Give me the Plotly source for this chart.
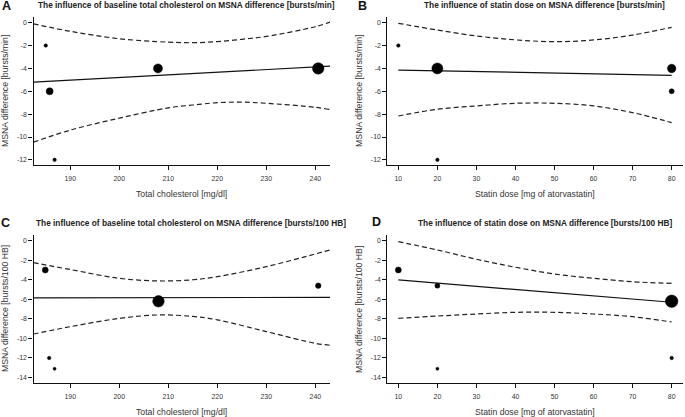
import plotly.graph_objects as go

W, H = 685, 417

# ---------------- data ----------------
# Panel A: baseline total cholesterol vs MSNA difference [bursts/min]
a_x = [185.0, 185.8, 186.8, 207.9, 240.6]
a_y = [-2.0, -6.0, -12.0, -4.0, -4.0]
a_fit_x = [182.5, 243.0]
a_fit_y = [-5.2, -3.8]
a_band_x = [182.5, 190, 200, 210, 215, 220, 225, 230, 240, 243]
a_upper = [-0.1, -0.75, -1.4, -1.7, -1.75, -1.65, -1.45, -1.2, -0.35, 0.05]
a_lower = [-10.45, -9.4, -8.35, -7.45, -7.2, -7.0, -6.95, -7.05, -7.4, -7.6]

# Panel B: statin dose vs MSNA difference [bursts/min]
b_x = [10, 20, 20, 80, 80]
b_y = [-2.0, -4.0, -12.0, -4.0, -6.0]
b_fit_x = [10, 80]
b_fit_y = [-4.14, -4.6]
b_band_x = [10, 20, 30, 40, 50, 60, 70, 80]
b_upper = [-0.05, -0.64, -1.16, -1.5, -1.66, -1.51, -1.08, -0.4]
b_lower = [-8.16, -7.57, -7.28, -7.05, -7.05, -7.28, -7.87, -8.74]

# Panel C: baseline total cholesterol vs MSNA difference [bursts/100 HB]
c_x = [184.9, 185.7, 186.8, 208.0, 240.6]
c_y = [-3.0, -12.0, -13.1, -6.2, -4.6]
c_fit_x = [182.5, 243.0]
c_fit_y = [-5.85, -5.8]
c_band_x = [182.5, 190, 200, 208, 215, 220, 230, 240, 243]
c_upper = [-2.25, -2.95, -3.85, -4.12, -4.0, -3.68, -2.66, -1.36, -0.95]
c_lower = [-9.55, -8.8, -7.95, -7.6, -7.75, -8.1, -9.3, -10.5, -10.7]

# Panel D: statin dose vs MSNA difference [bursts/100 HB]
d_x = [10, 20, 20, 80, 80]
d_y = [-3.0, -4.6, -13.1, -6.2, -12.0]
d_fit_x = [10, 80]
d_fit_y = [-4.02, -6.3]
d_band_x = [10, 20, 30, 40, 50, 60, 70, 80]
d_upper = [-0.1, -0.95, -1.9, -2.72, -3.41, -3.85, -4.2, -4.36]
d_lower = [-7.94, -7.71, -7.5, -7.33, -7.33, -7.5, -7.78, -8.32]

# marker diameters (px), proportional to study weight
a_sizes = [3.5, 7, 3.5, 9, 11.5]
b_sizes = [3.5, 11, 3.5, 8.5, 5]
c_sizes = [6, 3.5, 3, 11.5, 5.5]
d_sizes = [6, 5, 3, 12.5, 3.5]

chol_ticks = [190, 200, 210, 220, 230, 240]
dose_ticks = [10, 20, 30, 40, 50, 60, 70, 80]
y_ticks_min = [0, -2, -4, -6, -8, -10, -12]
y_ticks_hb = [0, -2, -4, -6, -8, -10, -12, -14]

titles = [
    "The influence of baseline total cholesterol on MSNA difference [bursts/min]",
    "The influence of statin dose on MSNA difference [bursts/min]",
    "The influence of baseline total cholesterol on MSNA difference [bursts/100 HB]",
    "The influence of statin dose on MSNA difference [bursts/100 HB]",
]
letters = ["A", "B", "C", "D"]
x_titles = ["Total cholesterol [mg/dl]", "Statin dose [mg of atorvastatin]",
            "Total cholesterol [mg/dl]", "Statin dose [mg of atorvastatin]"]
y_titles = ["MSNA difference [bursts/min]", "MSNA difference [bursts/min]",
            "MSNA difference [bursts/100 HB]", "MSNA difference [bursts/100 HB]"]

# ---------------- layout geometry (pixels) ----------------
panels = [
    dict(px=(33.5, 330.0), py=(17.0, 165.0), xr=[182.5, 243.0], yr=[-12.45, 0.5]),
    dict(px=(387.4, 682.6), py=(17.0, 165.0), xr=[7.2, 82.8], yr=[-12.45, 0.5]),
    dict(px=(33.5, 330.0), py=(235.2, 383.0), xr=[182.5, 243.0], yr=[-14.56, 0.56]),
    dict(px=(387.4, 682.6), py=(235.2, 383.0), xr=[7.2, 82.8], yr=[-14.56, 0.56]),
]
data_sets = [
    (a_x, a_y, a_sizes, a_fit_x, a_fit_y, a_band_x, a_upper, a_lower, chol_ticks, y_ticks_min),
    (b_x, b_y, b_sizes, b_fit_x, b_fit_y, b_band_x, b_upper, b_lower, dose_ticks, y_ticks_min),
    (c_x, c_y, c_sizes, c_fit_x, c_fit_y, c_band_x, c_upper, c_lower, chol_ticks, y_ticks_hb),
    (d_x, d_y, d_sizes, d_fit_x, d_fit_y, d_band_x, d_upper, d_lower, dose_ticks, y_ticks_hb),
]

FONT = "Liberation Sans, Arial, Helvetica, sans-serif"
fig = go.Figure()
layout = dict(
    width=W, height=H,
    margin=dict(l=0, r=0, t=0, b=0),
    paper_bgcolor="white", plot_bgcolor="white",
    showlegend=False,
    font=dict(family=FONT, color="#222"),
)
annotations = []

for i, (p, ds) in enumerate(zip(panels, data_sets)):
    xs, ys, sz, fx, fy, bx, bu, bl, xt, yt = ds
    n = "" if i == 0 else str(i + 1)
    xa, ya = "x" + n, "y" + n
    dx = [p["px"][0] / W, p["px"][1] / W]
    dy = [1 - p["py"][1] / H, 1 - p["py"][0] / H]
    axis_common = dict(
        showgrid=False, zeroline=False, showline=True, linecolor="#111", linewidth=1.4,
        ticks="outside", ticklen=4, tickwidth=1, tickcolor="#111",
        tickfont=dict(size=6.9, color="#333", family=FONT),
    )
    layout["xaxis" + n] = dict(axis_common, domain=dx, range=p["xr"], anchor=ya,
                               tickvals=xt, ticktext=[str(v) for v in xt],
                               ticklabelstandoff=3)
    layout["yaxis" + n] = dict(axis_common, domain=dy, range=p["yr"], anchor=xa,
                               tickvals=yt, ticktext=[str(v) for v in yt])
    # confidence band curves
    for band in (bu, bl):
        fig.add_trace(go.Scatter(x=bx, y=band, mode="lines", xaxis=xa, yaxis=ya,
                                 line=dict(color="#222", width=1.2, dash="5px,3px", shape="spline"),
                                 hoverinfo="skip"))
    # regression line
    fig.add_trace(go.Scatter(x=fx, y=fy, mode="lines", xaxis=xa, yaxis=ya,
                             line=dict(color="#111", width=1.2), hoverinfo="skip"))
    # study points
    fig.add_trace(go.Scatter(x=xs, y=ys, mode="markers", xaxis=xa, yaxis=ya,
                             marker=dict(color="black", size=sz, opacity=1,
                                         line=dict(width=0.5, color="black"))))

    cx = (p["px"][0] + p["px"][1]) / 2
    cy = (p["py"][0] + p["py"][1]) / 2
    top = 5 if i < 2 else 222.7
    title_cx = [186.5, 544.0, 191.0, 545.0][i]
    annotations.append(dict(text="<b>" + titles[i] + "</b>", x=title_cx / W, y=1 - top / H,
                            xref="paper", yref="paper", xanchor="center", yanchor="middle",
                            showarrow=False, font=dict(size=8.3, color="#222", family=FONT)))
    letter_pos = [(6, 6), (362, 6), (5.5, 222.5), (376, 221.5)][i]
    annotations.append(dict(text="<b>" + letters[i] + "</b>", x=letter_pos[0] / W,
                            y=1 - letter_pos[1] / H, xref="paper", yref="paper",
                            xanchor="center", yanchor="middle", showarrow=False,
                            font=dict(size=12.5, color="#111", family=FONT)))
    annotations.append(dict(text=x_titles[i], x=cx / W, y=1 - (p["py"][1] + 28.5) / H,
                            xref="paper", yref="paper", xanchor="center", yanchor="middle",
                            showarrow=False, font=dict(size=8.7, color="#333", family=FONT)))
    annotations.append(dict(text=y_titles[i], x=(p["px"][0] - 28.5) / W, y=1 - cy / H,
                            xref="paper", yref="paper", xanchor="center", yanchor="middle",
                            textangle=-90, showarrow=False,
                            font=dict(size=8.7, color="#333", family=FONT)))

layout["annotations"] = annotations
fig.update_layout(**layout)
fig.write_html("out.html", config={"displayModeBar": False},
               post_script="document.body.style.margin='0px';document.body.style.padding='0px';")
